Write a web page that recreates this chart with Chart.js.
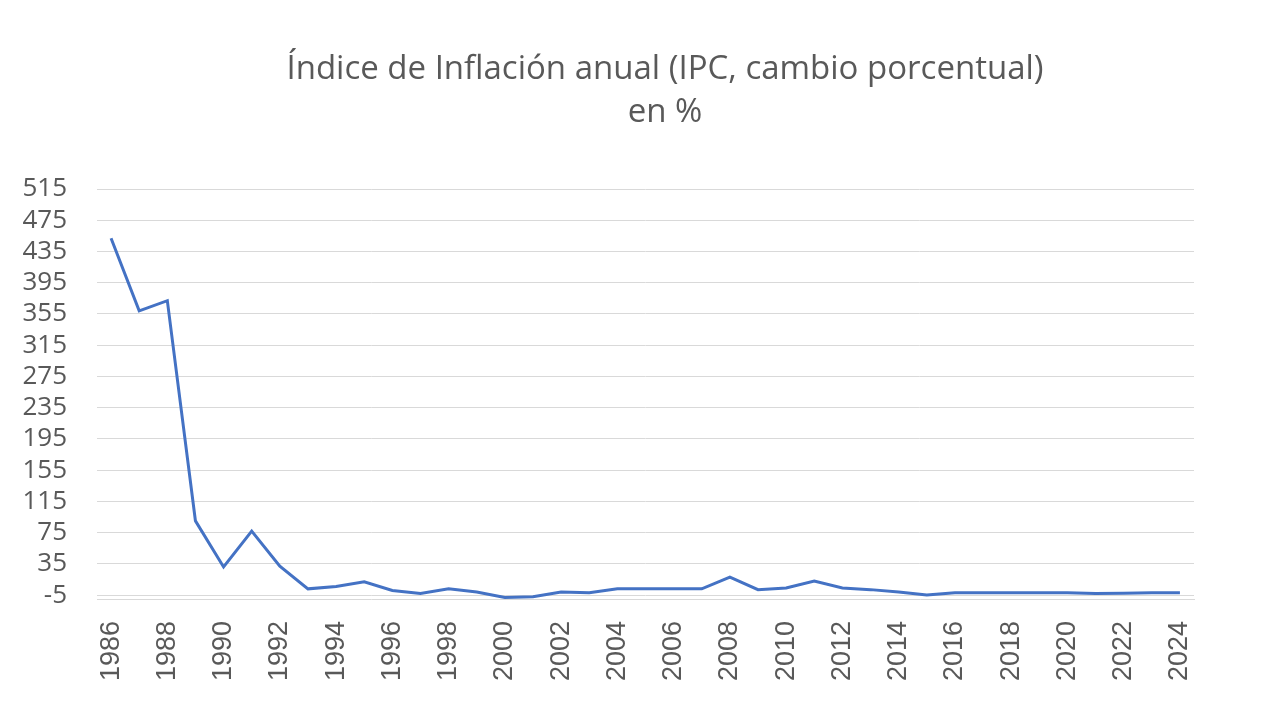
<!DOCTYPE html>
<html>
<head>
<meta charset="utf-8">
<script src="https://cdn.jsdelivr.net/npm/chart.js@4.4.0/dist/chart.umd.min.js"></script>
<style>
  html, body { margin: 0; padding: 0; background: #fff; }
  #wrap { width: 1280px; height: 720px; }
</style>
</head>
<body>
<div id="wrap"><canvas id="myChart" width="1280" height="720"></canvas></div>
<script>
const years = [];
for (let y = 1986; y <= 2024; y++) years.push(String(y));

// inflation in %
const inflation = [452, 359, 372, 90, 31, 77, 32, 3, 6, 12, 1, -3, 3, -1, -8, -7, -1, -2, 3, 3,
  3, 3, 18, 2, 4, 13, 4, 2, -1, -5, -2, -2, -2, -2, -2, -3, -2.5, -2, -2];

const yTicks = [-5, 35, 75, 115, 155, 195, 235, 275, 315, 355, 395, 435, 475, 515];

const titleLines = ['Índice de Inflación anual (IPC, cambio porcentual)', 'en %'];

const ctx = document.getElementById('myChart');
const grey = '#595959';

// title centred on the whole canvas, like the original
const canvasTitle = {
  id: 'canvasTitle',
  afterDraw(chart) {
    const c = chart.ctx;
    c.save();
    c.fillStyle = grey;
    c.font = '33px "Open Sans"';
    c.textAlign = 'center';
    c.textBaseline = 'middle';
    c.fillText(titleLines[0], 665, 70);
    c.fillText(titleLines[1], 665, 113);
    c.restore();
  }
};

new Chart(ctx, {
  type: 'line',
  data: {
    labels: years,
    datasets: [{
      label: 'IPC',
      data: inflation,
      borderColor: '#4472C4',
      borderWidth: 3,
      pointRadius: 0,
      tension: 0,
      fill: false
    }]
  },
  options: {
    responsive: false,
    animation: false,
    layout: { padding: { left: 0, right: 86, top: 189, bottom: 0 } },
    plugins: {
      legend: { display: false },
      tooltip: { enabled: false },
      title: { display: false }
    },
    scales: {
      y: {
        min: -10,
        max: 515,
        afterBuildTicks: axis => { axis.ticks = yTicks.map(v => ({ value: v })); },
        afterFit: scale => { scale.width = 97; },
        border: { display: false },
        grid: { color: '#d9d9d9', lineWidth: 1, drawTicks: false },
        ticks: {
          color: grey,
          padding: 30,
          autoSkip: false,
          font: { family: '"Open Sans"', size: 26 }
        }
      },
      x: {
        offset: true,
        afterFit: scale => { scale.height = 121; },
        border: { display: true, color: '#d9d9d9', width: 1 },
        grid: { display: false },
        ticks: {
          color: grey,
          autoSkip: false,
          maxRotation: 90,
          minRotation: 90,
          padding: 14,
          font: { family: '"Liberation Sans"', size: 27 },
          callback: function (val, i) { return i % 2 === 0 ? this.getLabelForValue(val) : ''; }
        }
      }
    }
  },
  plugins: [canvasTitle]
});
</script>
</body>
</html>
